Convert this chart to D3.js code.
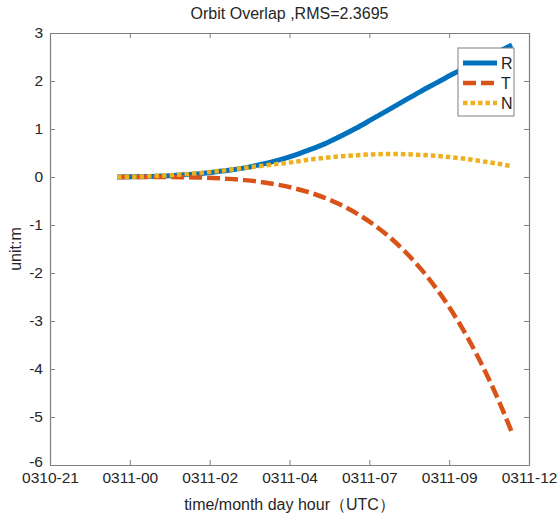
<!DOCTYPE html>
<html>
<head>
<meta charset="utf-8">
<script src="https://cdn.jsdelivr.net/npm/d3@7"></script>
<style>
  html, body { margin: 0; padding: 0; background: #fff; }
  svg text { font-family: "Liberation Sans", Arial, sans-serif; fill: #262626; }
</style>
</head>
<body>
<svg id="chart" width="557" height="517"></svg>
<script>
// Epoch time in hours counted from 0310-00 UTC
const hours = [23.1, 23.6, 24.1, 24.6, 25.1, 25.6, 26.1, 26.6, 27.1, 27.6, 28.1, 28.6, 29.1,
               29.6, 30.1, 30.6, 31.1, 31.6, 32.1, 32.6, 33.1, 33.6, 34.1, 34.6, 35.1, 35.47];

// Orbit differences (m) in radial, along-track and cross-track directions
const seriesR = [0, 0.003, 0.01, 0.022, 0.04, 0.065, 0.10, 0.14, 0.19, 0.26, 0.34, 0.44, 0.56,
                 0.69, 0.85, 1.02, 1.21, 1.40, 1.59, 1.78, 1.96, 2.14, 2.31, 2.47, 2.63, 2.75];
const seriesT = [0, 0, 0, -0.001, -0.004, -0.010, -0.021, -0.039, -0.065, -0.103, -0.156, -0.226, -0.317,
                 -0.433, -0.579, -0.757, -0.974, -1.234, -1.542, -1.904, -2.325, -2.813, -3.372, -4.011, -4.735, -5.33];
const seriesN = [0, 0.005, 0.015, 0.03, 0.05, 0.08, 0.11, 0.15, 0.19, 0.23, 0.27, 0.31, 0.36,
                 0.40, 0.43, 0.455, 0.47, 0.48, 0.475, 0.46, 0.44, 0.41, 0.37, 0.32, 0.27, 0.22];

const seriesNames = ["R", "T", "N"];
const xTickValues = [21, 23.5, 26, 28.5, 31, 33.5, 36];
const xTickLabels = ["0310-21", "0311-00", "0311-02", "0311-04", "0311-07", "0311-09", "0311-12"];
const yTickValues = [3, 2, 1, 0, -1, -2, -3, -4, -5, -6];

const titleText = "Orbit Overlap ,RMS=2.3695";
const xLabelText = "time/month day hour（UTC）";
const yLabelText = "unit:m";

const colors = { R: "#0072BD", T: "#D95319", N: "#EDB120" };
const dashes = { R: null, T: "13,5", N: "4.5,3" };
const widths = { R: 5, T: 4.5, N: 4.5 };

const box = { left: 50, right: 529, top: 33, bottom: 465 };
const svg = d3.select("#chart");

const x = d3.scaleLinear().domain([21, 36]).range([box.left, box.right]);
const y = d3.scaleLinear().domain([-6, 3]).range([box.bottom, box.top]);

const axisColor = "#7f7f7f";
const fontFamily = '"Liberation Sans", Arial, sans-serif';
const tickFont = "15.5px";

// Axes (ticks drawn inward, mirrored on top and right)
const gx = svg.append("g").attr("transform", `translate(0,${box.bottom})`)
  .call(d3.axisBottom(x).tickValues(xTickValues).tickSizeInner(-5).tickSizeOuter(0)
    .tickPadding(7).tickFormat((d, i) => xTickLabels[i]));
const gxTop = svg.append("g").attr("transform", `translate(0,${box.top})`)
  .call(d3.axisTop(x).tickValues(xTickValues).tickSizeInner(-5).tickSizeOuter(0).tickFormat(""));
const gy = svg.append("g").attr("transform", `translate(${box.left},0)`)
  .call(d3.axisLeft(y).tickValues(yTickValues).tickSizeInner(-5).tickSizeOuter(0)
    .tickPadding(7).tickFormat(d => String(d)));
const gyRight = svg.append("g").attr("transform", `translate(${box.right},0)`)
  .call(d3.axisRight(y).tickValues(yTickValues).tickSizeInner(-5).tickSizeOuter(0).tickFormat(""));

[gx, gxTop, gy, gyRight].forEach(g => {
  g.selectAll("path.domain").attr("stroke", axisColor).attr("stroke-width", 1.2);
  g.selectAll(".tick line").attr("stroke", axisColor).attr("stroke-width", 1);
  g.selectAll(".tick text").style("font-size", tickFont)
    .style("font-family", fontFamily).attr("fill", "#262626");
});
// lift the lowest y label slightly so it clears the x labels
gy.selectAll(".tick text").filter(d => d === -6).attr("dy", "0.1em");

// Series lines
const data = { R: seriesR, T: seriesT, N: seriesN };
const line = d3.line().x((d, i) => x(hours[i])).y(d => y(d)).curve(d3.curveMonotoneX);
const plot = svg.append("g");
seriesNames.forEach(name => {
  plot.append("path")
    .datum(data[name])
    .attr("d", line)
    .attr("fill", "none")
    .attr("stroke", colors[name])
    .attr("stroke-width", widths[name])
    .attr("stroke-dasharray", dashes[name]);
});

// Title and axis labels
svg.append("text").attr("x", (box.left + box.right) / 2).attr("y", 19)
  .attr("text-anchor", "middle").style("font-size", "16px").text(titleText);
svg.append("text").attr("x", (box.left + box.right) / 2).attr("y", 510)
  .attr("text-anchor", "middle").style("font-size", "16px").text(xLabelText);
svg.append("text").attr("transform", `translate(21,${(box.top + box.bottom) / 2}) rotate(-90)`)
  .attr("text-anchor", "middle").style("font-size", "16px").text(yLabelText);

// Legend
const lg = svg.append("g").attr("transform", "translate(458,48)");
lg.append("rect").attr("width", 56).attr("height", 68)
  .attr("fill", "#fff").attr("stroke", axisColor).attr("stroke-width", 1);
seriesNames.forEach((name, i) => {
  const yy = 15 + i * 20;
  lg.append("line").attr("x1", 5).attr("x2", 39).attr("y1", yy).attr("y2", yy)
    .attr("stroke", colors[name]).attr("stroke-width", widths[name])
    .attr("stroke-dasharray", dashes[name]);
  lg.append("text").attr("x", 43).attr("y", yy).attr("dy", "0.35em")
    .style("font-size", "16px").text(name);
});
</script>
</body>
</html>
